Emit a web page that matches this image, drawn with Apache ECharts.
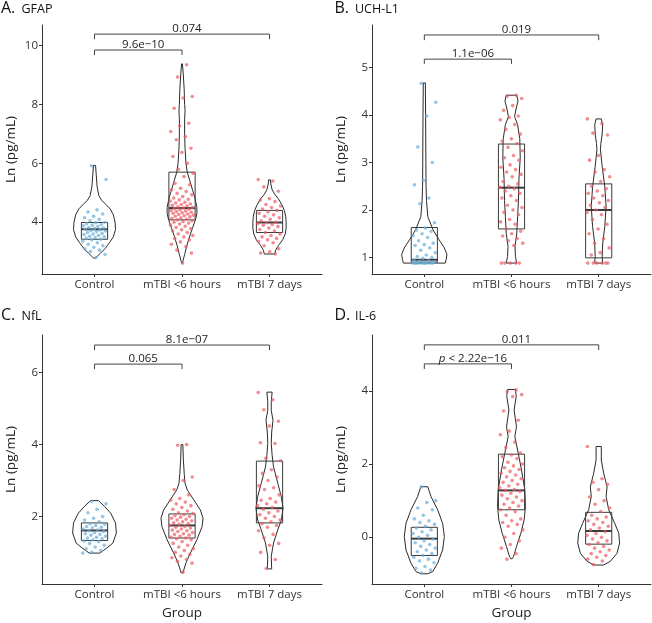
<!DOCTYPE html>
<html><head><meta charset="utf-8">
<script src="https://cdn.jsdelivr.net/npm/echarts@6/dist/echarts.min.js"></script>
<style>html,body{margin:0;padding:0;background:#fff}#c{width:652px;height:623px}</style>
</head><body><div id="c"></div>
<script>
// ---------- data ----------
const categories = ['Control', 'mTBI <6 hours', 'mTBI 7 days'];
const panelLetters = ['A.', 'B.', 'C.', 'D.'];
const panelMarkers = ['GFAP', 'UCH-L1', 'NfL', 'IL-6'];
const yTickValues = [[4, 6, 8, 10], [1, 2, 3, 4, 5], [2, 4, 6], [0, 2, 4]];
const yMins = [2.24, 0.65, 0.12, -1.28];
const yMaxs = [10.7, 5.9, 7.05, 5.53];

// observed points (Ln pg/mL)
const gfapControl = [5.92,5.45,4.42,4.35,4.28,4.2,4.15,4.1,4.05,4.0,3.98,3.95,3.92,3.9,3.88,3.85,3.82,3.8,3.78,3.76,3.74,3.72,3.7,3.68,3.65,3.62,3.6,3.58,3.55,3.52,3.5,3.48,3.45,3.42,3.4,3.35,3.3,3.25,3.2,3.15,3.1,3.05,3.0,2.9,2.8];
const gfapAcute = [9.35,8.93,8.27,8.22,7.87,7.36,7.27,7.08,6.91,6.8,6.51,6.37,6.23,6.0,5.8,5.66,5.55,5.32,5.27,5.15,5.1,5.04,4.98,4.93,4.87,4.82,4.78,4.76,4.72,4.68,4.65,4.62,4.6,4.57,4.55,4.52,4.5,4.48,4.46,4.44,4.42,4.4,4.38,4.36,4.34,4.32,4.3,4.28,4.26,4.24,4.22,4.2,4.18,4.15,4.12,4.1,4.08,4.05,4.02,4.0,3.97,3.94,3.9,3.86,3.82,3.78,3.74,3.7,3.65,3.6,3.55,3.5,3.45,3.4,3.33,3.25,3.17,3.05,2.95,2.61];
const gfapWeek = [5.45,5.4,5.2,5.05,4.8,4.75,4.7,4.6,4.55,4.5,4.45,4.4,4.35,4.3,4.25,4.2,4.15,4.1,4.05,4.0,3.98,3.95,3.92,3.9,3.85,3.8,3.75,3.7,3.65,3.6,3.55,3.5,3.45,3.4,3.35,3.3,3.2,3.1,3.0,2.95,2.92];
const uchControl = [4.67,4.27,3.98,3.33,3.0,2.62,2.53,2.25,2.13,1.73,1.62,1.58,1.55,1.5,1.46,1.42,1.35,1.3,1.27,1.25,1.2,1.15,1.1,1.05,1.02,1.0,0.98,0.95,0.93,0.92,0.9,0.88,0.88,0.88,0.88,0.88,0.88,0.88,0.88,0.88,0.88];
const uchAcute = [4.42,4.4,4.35,4.2,4.1,3.98,3.95,3.9,3.8,3.7,3.6,3.5,3.45,3.4,3.32,3.25,3.15,3.1,3.05,2.95,2.9,2.85,2.8,2.75,2.7,2.6,2.55,2.5,2.48,2.45,2.4,2.35,2.3,2.25,2.2,2.1,2.05,2.0,1.95,1.9,1.8,1.75,1.7,1.6,1.55,1.5,1.45,1.4,1.35,1.3,1.25,0.88,0.88,0.88,0.88,0.88];
const uchWeek = [3.92,3.82,3.62,3.58,3.15,3.05,2.85,2.8,2.7,2.6,2.5,2.45,2.4,2.35,2.3,2.25,2.2,2.15,2.1,2.05,2.0,1.95,1.9,1.8,1.7,1.6,1.5,1.4,1.3,1.2,1.1,1.05,0.88,0.88,0.88,0.88,0.88,0.88];
const nflControl = [2.42,2.35,2.2,2.1,2.0,1.95,1.9,1.85,1.8,1.78,1.75,1.72,1.7,1.68,1.65,1.62,1.6,1.58,1.55,1.52,1.5,1.48,1.45,1.42,1.4,1.38,1.35,1.32,1.3,1.25,1.2,1.15,1.1,1.05,1.0,0.98];
const nflAcute = [4.0,3.98,3.1,3.0,2.75,2.6,2.5,2.45,2.4,2.35,2.3,2.25,2.2,2.15,2.1,2.08,2.05,2.02,2.0,1.98,1.95,1.92,1.9,1.88,1.85,1.82,1.8,1.78,1.75,1.72,1.7,1.68,1.65,1.62,1.6,1.58,1.55,1.52,1.5,1.48,1.45,1.42,1.4,1.38,1.35,1.3,1.25,1.2,1.15,1.1,1.05,1.0,0.95,0.9,0.85,0.8,0.75,0.7,0.45];
const nflWeek = [5.45,5.25,4.97,4.65,4.52,4.05,4.03,3.62,3.55,3.3,3.2,3.1,3.0,2.85,2.8,2.75,2.6,2.5,2.45,2.4,2.35,2.3,2.25,2.2,2.15,2.1,2.05,2.0,1.95,1.9,1.85,1.8,1.75,1.7,1.6,1.5,1.4,1.25,1.2,1.0,0.8,0.55];
const il6Control = [1.38,1.0,0.95,0.8,0.75,0.6,0.5,0.45,0.4,0.35,0.3,0.25,0.2,0.15,0.1,0.05,0.0,-0.05,-0.1,-0.15,-0.2,-0.25,-0.3,-0.35,-0.4,-0.45,-0.5,-0.55,-0.6,-0.65,-0.7,-0.8,-0.85,-0.9,-0.98];
const il6Acute = [4.03,3.98,3.9,3.85,3.45,3.2,2.9,2.8,2.6,2.45,2.3,2.25,2.2,2.15,2.05,2.0,1.95,1.9,1.85,1.8,1.75,1.7,1.65,1.6,1.55,1.5,1.45,1.4,1.35,1.3,1.28,1.25,1.2,1.15,1.1,1.05,1.0,0.95,0.9,0.85,0.8,0.75,0.7,0.6,0.5,0.45,0.4,0.35,0.3,0.2,0.1,0.0,-0.1,-0.2,-0.3,-0.45,-0.6];
const il6Week = [2.48,1.6,1.5,1.45,1.3,1.1,1.0,0.9,0.8,0.7,0.6,0.55,0.5,0.45,0.4,0.35,0.3,0.25,0.2,0.15,0.1,0.05,0.0,-0.05,-0.1,-0.15,-0.2,-0.25,-0.3,-0.35,-0.4,-0.45,-0.5,-0.55,-0.6,-0.65,-0.75];

// box statistics [q1, median, q3]
const gfapBox = [[3.42,3.76,3.99],[4.08,4.48,5.70],[3.65,3.99,4.40]];
const uchBox = [[0.90,0.95,1.63],[1.60,2.47,3.39],[0.99,2.00,2.55]];
const nflBox = [[1.33,1.61,1.82],[1.40,1.75,2.07],[1.82,2.23,3.54]];
const il6Box = [[-0.50,-0.04,0.27],[0.75,1.28,2.27],[-0.19,0.17,0.68]];

// violin outlines [value, half-width in category units], top to bottom
const gfapViolins = [
  [[5.93,0.012],[5.6,0.02],[5.2,0.03],[4.9,0.05],[4.75,0.08],[4.6,0.13],[4.45,0.18],[4.25,0.215],[4.0,0.235],[3.75,0.24],[3.5,0.215],[3.3,0.17],[3.1,0.12],[2.95,0.07],[2.85,0.035],[2.78,0.01]],
  [[9.38,0.005],[9.0,0.015],[8.5,0.025],[8.0,0.03],[7.8,0.035],[7.5,0.03],[7.0,0.03],[6.5,0.035],[6.0,0.045],[5.7,0.06],[5.4,0.09],[5.1,0.12],[4.8,0.15],[4.5,0.17],[4.3,0.17],[4.1,0.155],[3.8,0.12],[3.5,0.085],[3.2,0.055],[2.9,0.03],[2.7,0.012],[2.61,0.003]],
  [[5.44,0.01],[5.3,0.015],[5.1,0.03],[4.95,0.06],[4.8,0.1],[4.6,0.14],[4.4,0.17],[4.2,0.185],[4.0,0.19],[3.8,0.19],[3.6,0.18],[3.4,0.15],[3.2,0.1],[3.05,0.07],[2.92,0.06]]
];
const uchViolins = [
  [[4.68,0.012],[4.0,0.015],[3.0,0.018],[2.5,0.02],[2.2,0.025],[1.86,0.04],[1.58,0.1],[1.37,0.17],[1.2,0.23],[1.06,0.26],[0.95,0.25],[0.88,0.24]],
  [[4.42,0.06],[4.3,0.075],[4.15,0.055],[3.97,0.035],[3.8,0.07],[3.5,0.095],[3.1,0.1],[2.65,0.085],[2.2,0.08],[1.86,0.07],[1.5,0.06],[1.23,0.04],[1.02,0.045],[0.88,0.06]],
  [[3.92,0.03],[3.8,0.045],[3.6,0.04],[3.4,0.025],[3.27,0.02],[2.92,0.04],[2.49,0.07],[2.07,0.085],[1.65,0.07],[1.3,0.046],[1.02,0.04],[0.88,0.046]]
];
const nflViolins = [
  [[2.44,0.045],[2.28,0.115],[2.09,0.185],[1.82,0.24],[1.54,0.25],[1.26,0.21],[1.12,0.14],[1.05,0.1],[0.98,0.06]],
  [[4.0,0.01],[3.6,0.015],[3.2,0.025],[2.92,0.035],[2.74,0.06],[2.46,0.135],[2.18,0.21],[1.95,0.24],[1.72,0.23],[1.35,0.17],[0.98,0.095],[0.71,0.046],[0.43,0.01]],
  [[5.46,0.03],[5.2,0.02],[4.95,0.02],[4.68,0.04],[4.35,0.025],[4.03,0.02],[3.7,0.03],[3.38,0.046],[2.92,0.095],[2.55,0.135],[2.23,0.155],[1.9,0.135],[1.63,0.095],[1.26,0.046],[0.89,0.02],[0.54,0.025]]
];
const il6Violins = [
  [[1.38,0.04],[1.11,0.077],[0.75,0.153],[0.38,0.21],[0.02,0.23],[-0.35,0.21],[-0.71,0.153],[-0.94,0.096],[-1.0,0.04]],
  [[4.04,0.046],[3.85,0.054],[3.48,0.03],[3.02,0.057],[2.75,0.038],[2.3,0.077],[1.84,0.115],[1.29,0.153],[0.84,0.16],[0.47,0.145],[0.11,0.107],[-0.26,0.057],[-0.53,0.023],[-0.59,0.008]],
  [[2.48,0.03],[2.11,0.03],[1.75,0.057],[1.38,0.096],[1.11,0.085],[0.75,0.115],[0.38,0.184],[0.11,0.23],[-0.16,0.24],[-0.44,0.21],[-0.66,0.134],[-0.76,0.057]]
];

// comparison brackets: [from, to, bar value, leg-end value]
const gfapBrackets = [[1,2,9.85,9.68],[1,3,10.39,10.22]];
const uchBrackets = [[1,2,5.18,5.08],[1,3,5.69,5.58]];
const nflBrackets = [[1,2,6.24,6.10],[1,3,6.77,6.63]];
const il6Brackets = [[1,2,4.74,4.60],[1,3,5.26,5.12]];
const gfapPLabels = ['9.6e\u221210', '0.074'];
const uchPLabels = ['1.1e\u221206', '0.019'];
const nflPLabels = ['0.065', '8.1e\u221207'];
const il6PLabels = ['{i|p} < 2.22e\u221216', '0.011'];

// ---------- chart ----------
const FONT = '"Open Sans", "Noto Sans", sans-serif';
const panels = [
  {pts:[gfapControl,gfapAcute,gfapWeek], box:gfapBox, vio:gfapViolins, br:gfapBrackets, lab:gfapPLabels},
  {pts:[uchControl,uchAcute,uchWeek], box:uchBox, vio:uchViolins, br:uchBrackets, lab:uchPLabels},
  {pts:[nflControl,nflAcute,nflWeek], box:nflBox, vio:nflViolins, br:nflBrackets, lab:nflPLabels},
  {pts:[il6Control,il6Acute,il6Week], box:il6Box, vio:il6Violins, br:il6Brackets, lab:il6PLabels}
];
const gridPos = [
  {left:42, top:25, width:280, height:249},
  {left:372, top:25, width:279, height:249},
  {left:42, top:335, width:280, height:249},
  {left:372, top:335, width:279, height:249}
];
const pointColors = ['#6aaedc', '#ec5b63', '#ec5b63'];
const jitter = i => (((i * 0.6180339887 + 0.37) % 1) - 0.5) * 0.27;
const axisColor = '#333';

const grids = [], xAxes = [], yAxes = [], series = [];
panels.forEach((p, gi) => {
  grids.push(Object.assign({containLabel:false, outerBoundsMode:'none'}, gridPos[gi]));
  xAxes.push({
    type:'value', gridIndex:gi, min:0.4, max:3.6,
    name: gi >= 2 ? 'Group' : '', nameLocation:'middle', nameGap:22,
    nameTextStyle:{fontFamily:FONT, fontSize:13.5, color:'#222'},
    axisLine:{show:true, onZero:false, lineStyle:{color:axisColor, width:1}},
    axisTick:{show:true, length:3, customValues:[1,2,3], lineStyle:{color:axisColor}},
    axisLabel:{customValues:[1,2,3], margin:5, fontFamily:FONT, fontSize:11.5, color:'#333',
      formatter: v => categories[Math.round(v) - 1] || ''},
    splitLine:{show:false}
  });
  yAxes.push({
    type:'value', gridIndex:gi, min:yMins[gi], max:yMaxs[gi],
    name:'Ln (pg/mL)', nameLocation:'middle', nameGap:24,
    nameTextStyle:{fontFamily:FONT, fontSize:13.5, color:'#222'},
    axisLine:{show:true, onZero:false, lineStyle:{color:axisColor, width:1}},
    axisTick:{show:true, length:3, customValues:yTickValues[gi], lineStyle:{color:axisColor}},
    axisLabel:{customValues:yTickValues[gi], margin:4, fontFamily:FONT, fontSize:11.5, color:'#333'},
    splitLine:{show:false}
  });
  // violins
  series.push({
    type:'custom', xAxisIndex:gi, yAxisIndex:gi, silent:true, z:1,
    data: p.box.map((b, i) => [i + 1, b[1]]),
    encode:{x:0, y:1},
    renderItem: (params, api) => {
      const prof = p.vio[params.dataIndex];
      const x = api.value(0);
      const left = prof.map(([v, w]) => api.coord([x - w, v]));
      const right = prof.slice().reverse().map(([v, w]) => api.coord([x + w, v]));
      return {type:'polygon', shape:{points:left.concat(right)},
        style:{fill:'none', stroke:'#2b2b2b', lineWidth:1}};
    }
  });
  // boxes
  series.push({
    type:'custom', xAxisIndex:gi, yAxisIndex:gi, silent:true, z:2,
    data: p.box.map((b, i) => [i + 1, b[0], b[1], b[2]]),
    encode:{x:0, y:[1,2,3]},
    renderItem: (params, api) => {
      const x = api.value(0);
      const tl = api.coord([x - 0.15, api.value(3)]);
      const br = api.coord([x + 0.15, api.value(1)]);
      const ml = api.coord([x - 0.15, api.value(2)]);
      const mr = api.coord([x + 0.15, api.value(2)]);
      return {type:'group', children:[
        {type:'rect', shape:{x:tl[0], y:tl[1], width:br[0]-tl[0], height:br[1]-tl[1]},
          style:{fill:'none', stroke:'#3a3a3a', lineWidth:1}},
        {type:'line', shape:{x1:ml[0], y1:ml[1], x2:mr[0], y2:mr[1]},
          style:{stroke:'#3a3a3a', lineWidth:2}}
      ]};
    }
  });
  // points
  p.pts.forEach((arr, ci) => {
    series.push({
      type:'scatter', xAxisIndex:gi, yAxisIndex:gi, silent:true, z:3,
      symbolSize:3.6,
      itemStyle:{color:pointColors[ci], opacity:0.7},
      data: arr.map((v, i) => [ci + 1 + jitter(i + ci * 7), v])
    });
  });
  // brackets
  series.push({
    type:'custom', xAxisIndex:gi, yAxisIndex:gi, silent:true, z:4,
    data: p.br.map(b => b.slice()),
    encode:{x:[0,1], y:[2,3]},
    renderItem: (params, api) => {
      const a = api.coord([api.value(0), api.value(3)]);
      const b = api.coord([api.value(0), api.value(2)]);
      const c = api.coord([api.value(1), api.value(2)]);
      const d = api.coord([api.value(1), api.value(3)]);
      return {type:'group', children:[
        {type:'polyline', shape:{points:[a,b,c,d]}, style:{fill:'none', stroke:'#444', lineWidth:1}},
        {type:'text', style:{text:p.lab[params.dataIndex], x:(b[0]+c[0])/2 + 5, y:b[1] - 5.5,
          align:'center', verticalAlign:'middle', fill:'#222', fontFamily:FONT, fontSize:11.5,
          rich:{i:{fontStyle:'italic', fontFamily:FONT, fontSize:11.5, fill:'#222'}}}}
      ]};
    }
  });
});

const titleBase = [[1, 14.5], [334.5, 14.5], [1, 321.5], [334.5, 321.5]];
const graphics = [];
titleBase.forEach((t, i) => {
  graphics.push({type:'text', x:t[0], y:t[1] - 6.2,
    style:{text:panelLetters[i], fontFamily:FONT, fontSize:16, fill:'#111', verticalAlign:'middle'}});
  graphics.push({type:'text', x:t[0] + 20.5, y:t[1] - 4.85,
    style:{text:panelMarkers[i], fontFamily:FONT, fontSize:12.5, fill:'#111', verticalAlign:'middle'}});
});

const chart = echarts.init(document.getElementById('c'), null, {renderer:'canvas'});
chart.setOption({
  backgroundColor:'#fff', animation:false,
  grid:grids, xAxis:xAxes, yAxis:yAxes, series:series, graphic:graphics
});
</script></body></html>
